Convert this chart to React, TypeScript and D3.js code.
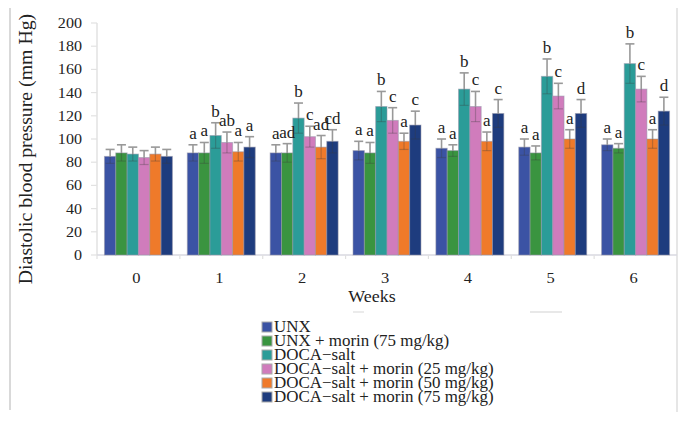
import React from "react";
import * as d3 from "d3";

const weeks = ["0", "1", "2", "3", "4", "5", "6"];
const seriesNames = [
  "UNX",
  "UNX + morin (75 mg/kg)",
  "DOCA−salt",
  "DOCA−salt + morin (25 mg/kg)",
  "DOCA−salt + morin (50 mg/kg)",
  "DOCA−salt + morin (75 mg/kg)",
];
const colors = ["#3b53a4", "#3a9440", "#2b9c98", "#d07cbc", "#ef7a2a", "#1e3c7e"];

// values[week][series]
const means = [
  [85, 88, 87, 84, 87, 85],
  [88, 88, 103, 97, 89, 93],
  [88, 88, 118, 102, 93, 98],
  [90, 88, 128, 116, 98, 112],
  [92, 90, 143, 128, 98, 122],
  [93, 88, 154, 137, 100, 122],
  [95, 92, 165, 143, 100, 124],
];
const errors = [
  [6, 7, 6, 6, 6, 6],
  [7, 9, 11, 9, 8, 9],
  [7, 8, 13, 9, 10, 10],
  [8, 9, 13, 11, 7, 12],
  [8, 5, 14, 13, 8, 12],
  [7, 6, 15, 11, 8, 12],
  [5, 4, 17, 11, 8, 12],
];
const sigLabels = [
  ["", "", "", "", "", ""],
  ["a", "a", "b", "ab", "a", "a"],
  ["a", "ad", "b", "c", "ad", "cd"],
  ["a", "a", "b", "c", "a", "c"],
  ["a", "a", "b", "c", "a", "c"],
  ["a", "a", "b", "c", "a", "d"],
  ["a", "a", "b", "c", "a", "d"],
];
const yTicks = [0, 20, 40, 60, 80, 100, 120, 140, 160, 180, 200];

const W = 686;
const H = 421;
const FONT = "'Liberation Serif', 'Times New Roman', serif";

function SText(props: {
  x: number;
  y: number;
  sx?: number;
  rot?: number;
  size: number;
  anchor?: string;
  children: React.ReactNode;
  fill?: string;
}) {
  const { x, y, sx = 1, rot = 0, size, anchor = "start", children, fill = "#222" } = props;
  return (
    <text
      transform={`translate(${x},${y}) rotate(${rot}) scale(${sx},1)`}
      fontSize={size}
      fontFamily={FONT}
      textAnchor={anchor}
      fill={fill}
    >
      {children}
    </text>
  );
}

export default function App() {
  const x0 = d3
    .scaleBand<string>()
    .domain(weeks)
    .range([97, 677])
    .paddingInner(0.18)
    .paddingOuter(0.09);
  const x1 = d3
    .scaleBand<number>()
    .domain(d3.range(seriesNames.length))
    .range([0, x0.bandwidth()]);
  const y = d3.scaleLinear().domain([0, 200]).range([255, 23]);

  const bw = x1.bandwidth();
  const cap = 4.5;

  return (
    <svg
      width={W}
      height={H}
      style={{ position: "absolute", left: 0, top: 0, background: "#fff" }}
    >
      {/* figure border lines */}
      <line x1={10} y1={8} x2={10} y2={410} stroke="#d9d9d9" strokeWidth={2} />
      <line x1={677} y1={8} x2={677} y2={412} stroke="#e6e6e6" strokeWidth={2} />

      {/* y axis */}
      <line x1={97} y1={y(200)} x2={97} y2={y(0)} stroke="#e2e2e2" strokeWidth={1.5} />
      {yTicks.map((t) => (
        <g key={t}>
          <line x1={91} x2={97} y1={y(t)} y2={y(t)} stroke="#e2e2e2" strokeWidth={1.2} />
          <SText x={82} y={y(t) + 5} size={14} sx={1.15} anchor="end">
            {t}
          </SText>
        </g>
      ))}
      {/* x axis */}
      <line x1={97} y1={y(0)} x2={677} y2={y(0)} stroke="#d8d8e0" strokeWidth={1.5} />
      {weeks.map((w) => {
        const bx = (x0(w) as number) - (x0.step() - x0.bandwidth()) / 2;
        return (
          <line key={"t" + w} x1={bx} x2={bx} y1={y(0)} y2={y(0) + 4} stroke="#e0e0e0" strokeWidth={1.2} />
        );
      })}

      {/* bars */}
      {weeks.map((w, gi) => (
        <g key={w} transform={`translate(${x0(w)},0)`}>
          {means[gi].map((v, si) => {
            const bx = x1(si) as number;
            return (
              <rect
                key={si}
                x={bx}
                y={y(v)}
                width={bw}
                height={y(0) - y(v)}
                fill={colors[si]}
                stroke="rgba(150,150,170,0.55)"
                strokeWidth={1}
              />
            );
          })}
          {means[gi].map((v, si) => {
            const cx = (x1(si) as number) + bw / 2;
            const e = errors[gi][si];
            return (
              <g key={"e" + si}>
                <line x1={cx} x2={cx} y1={y(v)} y2={y(v + e)} stroke="#999" strokeWidth={1.6} />
                <line x1={cx - cap} x2={cx + cap} y1={y(v + e)} y2={y(v + e)} stroke="#999" strokeWidth={1.6} />
                <line x1={cx} x2={cx} y1={y(v)} y2={y(v - e)} stroke="rgba(60,60,60,0.3)" strokeWidth={1.2} />
                <line x1={cx - cap} x2={cx + cap} y1={y(v - e)} y2={y(v - e)} stroke="rgba(60,60,60,0.3)" strokeWidth={1.2} />
              </g>
            );
          })}
          {sigLabels[gi].map((lab, si) =>
            lab ? (
              <SText
                key={"l" + si}
                x={(x1(si) as number) + bw / 2}
                y={y(means[gi][si] + errors[gi][si]) - 6}
                size={17}
                anchor="middle"
              >
                {lab}
              </SText>
            ) : null
          )}
        </g>
      ))}

      {/* x tick labels */}
      {weeks.map((w) => (
        <SText key={"xl" + w} x={(x0(w) as number) + x0.bandwidth() / 2 - 2} y={283} size={15} sx={1.1} anchor="middle">
          {w}
        </SText>
      ))}

      {/* axis titles */}
      <SText x={372} y={302} size={16} sx={1.12} anchor="middle">
        Weeks
      </SText>
      <SText x={32} y={149} size={18} sx={1.1} rot={-90} anchor="middle">
        Diastolic blood pressure (mm Hg)
      </SText>

      {/* faint artifacts */}
      <line x1={353} x2={364} y1={312} y2={312} stroke="#e4e4e4" strokeWidth={1.5} />
      <line x1={530} x2={562} y1={312} y2={312} stroke="#e0e0e0" strokeWidth={1.5} />

      {/* legend */}
      {seriesNames.map((name, i) => {
        const cy = 327 + i * 14;
        return (
          <g key={name}>
            <rect x={262} y={cy - 5} width={10} height={10} fill={colors[i]} stroke="#aaa" strokeWidth={1} />
            <SText x={274} y={cy + 5} size={16} sx={1.06}>
              {name}
            </SText>
          </g>
        );
      })}
    </svg>
  );
}
